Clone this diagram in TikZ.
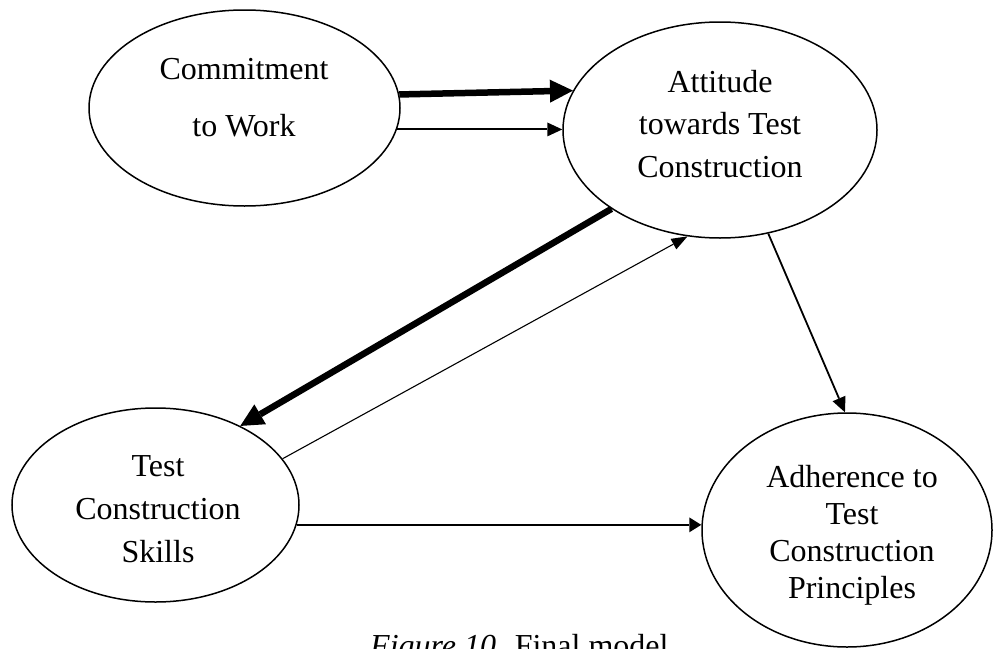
\documentclass[tikz,border=0pt]{standalone}
\usepackage{fontspec}
\setmainfont{Liberation Serif}
\usetikzlibrary{arrows.meta,shapes.geometric}
\begin{document}
\begin{tikzpicture}[x=1pt,y=-1pt,
  construct/.style={draw, ellipse, line width=1.5pt, inner sep=0pt},
  lbl/.style={anchor=base, align=center, inner sep=0pt},
  heavy/.style={line width=6.5pt, -{Triangle[length=23pt,width=23pt,line width=0pt]}},
  light/.style={line width=1.8pt, -{Triangle[length=15pt,width=14pt,line width=0pt]}},
]
\useasboundingbox (0,0) rectangle (996,648);

% constructs
\node[construct, minimum width=311pt, minimum height=196pt] (cw)  at (244.5,108) {};
\node[construct, minimum width=314pt, minimum height=216pt] (att) at (720,130) {};
\node[construct, minimum width=287pt, minimum height=194pt] (tcs) at (155.5,505) {};
\node[construct, minimum width=290pt, minimum height=234pt] (adh) at (847,530) {};

% labels (anchored at the baseline of the last line)
\node[lbl, font=\fontsize{32}{57}\selectfont]   (cwtext)  at (244,136) {Commitment\\to Work};
\node[lbl, font=\fontsize{32}{42.5}\selectfont] (atttext) at (720,177) {Attitude\\towards Test\\Construction};
\node[lbl, font=\fontsize{32}{43}\selectfont]   (tcstext) at (158,562) {Test\\Construction\\Skills};
\node[lbl, font=\fontsize{32}{36.7}\selectfont] (adhtext) at (852,598) {Adherence to\\Test\\Construction\\Principles};

% paths
\draw[heavy] (cw.5) -- (att.165.6);
\draw[light, line width=2pt] (cw.-8) -- (cw.-8 -| att.west);
\draw[heavy] (att.216.4) -- (tcs.43.4);
\draw[light, line width=1.1pt, -{Triangle[length=16pt,width=12pt,line width=0pt]}] (tcs.20.7) -- (att.253.8);
\draw[light] (att.295) -- (adh.91);
\draw[light, line width=2pt, -{Triangle[length=12pt,width=15pt,line width=0pt]}] (tcs.352) -- (tcs.352 -| adh.west);

% caption, running off the lower edge of the page
\node[anchor=base west, inner sep=0pt, font=\fontsize{32}{38}\selectfont] (cap) at (370,656) {\textit{Figure 10.} Final model};
\end{tikzpicture}
\end{document}
